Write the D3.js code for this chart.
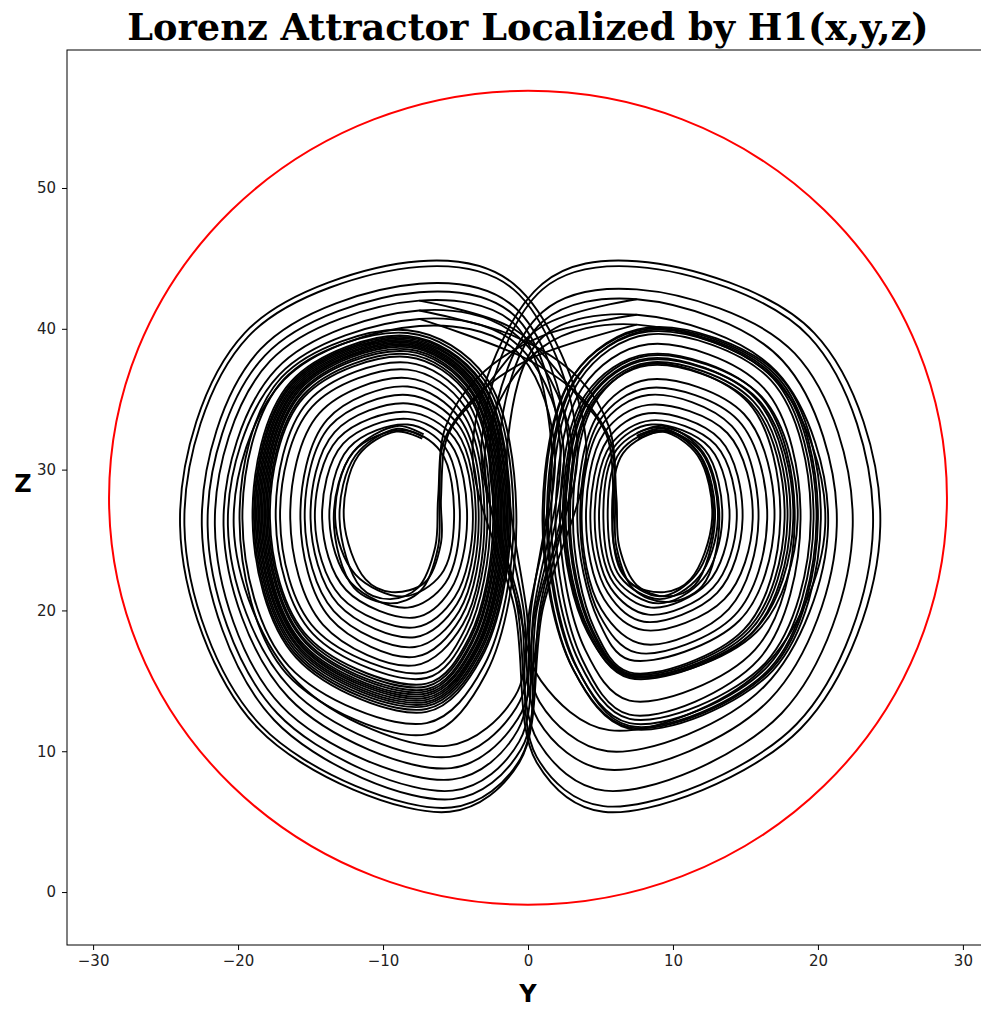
<!DOCTYPE html>
<html>
<head>
<meta charset="utf-8">
<script src="https://cdn.jsdelivr.net/npm/d3@7"></script>
<style>
  body { margin: 0; background: #fff; }
  .tick text { font-family: "DejaVu Sans", sans-serif; font-size: 15px; fill: #222; }
</style>
</head>
<body>
<div id="chart"></div>
<script>
// tick labels
const yTicks = [-30, -20, -10, 0, 10, 20, 30];
const zTicks = [0, 10, 20, 30, 40, 50];

// bounding circle H1 (centre and radius)
const boundCenter = [0, 28.0];
const boundRadius = 28.9;

// left wing, large loops that drop down the central column  [y, z]
const leftOuterLoops = [
  [[-24.0, 26], [-19.55, 39.7], [-7.5, 44.8], [-1, 43.2], [4.0, 32], [1.0, 20], [-0.6, 9.2], [-5.4, 5.7], [-18.6, 11.6]],
  [[-23.7, 26], [-19.3, 39.45], [-7.5, 44.4], [-1, 42.8], [3.4, 32], [0.6, 20], [-0.5, 9.5], [-5.3, 6.0], [-18.4, 11.8]],
  [[-22.5, 26], [-18.45, 38.55], [-7.5, 43.2], [-1, 41.6], [2.8, 32], [0.8, 20], [-0.5, 10.1], [-5.2, 6.6], [-17.5, 12.2]],
  [[-22.1, 26], [-18.15, 38.1], [-7.5, 42.6], [-1, 41.0], [2.2, 32], [0.4, 20], [-0.6, 10.7], [-5.2, 7.2], [-17.3, 12.7]],
  [[-21.6, 26], [-17.8, 37.7], [-7.5, 42.0], [-1, 40.4], [1.6, 32], [0.2, 20], [-0.7, 11.5], [-5.2, 8.0], [-17.0, 13.2]],
  [[-21.0, 26], [-17.35, 37.15], [-7.5, 41.3], [-1, 39.7], [3.0, 32], [0.9, 20], [-0.7, 12.3], [-5.3, 8.8], [-16.5, 13.8]],
  [[-20.7, 26], [-17.15, 36.75], [-7.5, 40.7], [-1, 39.1], [2.4, 32], [0.5, 20], [-0.8, 13.1], [-5.4, 9.6], [-16.3, 14.4]],
  [[-20.3, 26], [-16.85, 36.35], [-7.5, 40.2], [-1, 38.6], [1.8, 32], [0.1, 20], [-0.9, 13.9], [-5.5, 10.4], [-15.9, 14.9]]
];

// left wing, inner spiral loops
const leftInnerLoops = [
  [[-19.9, 26.5], [-17.0, 36.55], [-8.3, 39.9], [-2.9, 36.55], [-0.8, 26.5], [-2.9, 15.5], [-7.0, 11.2], [-16.65, 15.5]],
  [[-19.7, 26.5], [-16.85, 36.4], [-8.3, 39.7], [-3.05, 36.4], [-1.0, 26.5], [-3.05, 16.05], [-7.0, 12.0], [-16.5, 16.05]],
  [[-19.0, 26.5], [-16.35, 36.25], [-8.3, 39.5], [-3.2, 36.25], [-1.2, 26.5], [-3.2, 16.65], [-7.0, 12.8], [-16.0, 16.65]],
  [[-18.9, 26.5], [-16.25, 36.2], [-8.3, 39.4], [-3.25, 36.2], [-1.3, 26.5], [-3.25, 16.8], [-7.0, 13.0], [-15.95, 16.8]],
  [[-18.8, 26.5], [-16.2, 36.1], [-8.3, 39.3], [-3.35, 36.1], [-1.4, 26.5], [-3.35, 16.9], [-7.0, 13.2], [-15.85, 16.9]],
  [[-18.7, 26.5], [-16.1, 36.05], [-8.3, 39.2], [-3.4, 36.05], [-1.5, 26.5], [-3.4, 17.05], [-7.0, 13.35], [-15.8, 17.05]],
  [[-18.6, 26.5], [-16.05, 35.95], [-8.3, 39.1], [-3.5, 35.95], [-1.6, 26.5], [-3.5, 17.15], [-7.0, 13.5], [-15.7, 17.15]],
  [[-18.5, 26.5], [-15.95, 35.9], [-8.3, 39.0], [-3.55, 35.9], [-1.7, 26.5], [-3.55, 17.25], [-7.0, 13.65], [-15.65, 17.25]],
  [[-18.4, 26.5], [-15.9, 35.8], [-8.3, 38.9], [-3.6, 35.8], [-1.8, 26.5], [-3.6, 17.35], [-7.0, 13.8], [-15.55, 17.35]],
  [[-18.3, 26.5], [-15.8, 35.75], [-8.3, 38.8], [-3.7, 35.75], [-1.9, 26.5], [-3.7, 17.45], [-7.0, 13.95], [-15.5, 17.45]],
  [[-18.2, 26.5], [-15.75, 35.65], [-8.3, 38.7], [-3.75, 35.65], [-2.0, 26.5], [-3.75, 17.55], [-7.0, 14.1], [-15.45, 17.55]],
  [[-18.1, 26.5], [-15.65, 35.55], [-8.3, 38.55], [-3.85, 35.55], [-2.1, 26.5], [-3.85, 17.7], [-7.0, 14.25], [-15.35, 17.7]],
  [[-18.0, 26.5], [-15.6, 35.45], [-8.3, 38.4], [-3.9, 35.45], [-2.2, 26.5], [-3.9, 17.8], [-7.0, 14.4], [-15.3, 17.8]],
  [[-17.9, 26.5], [-15.5, 35.3], [-8.3, 38.2], [-4.0, 35.3], [-2.3, 26.5], [-4.0, 17.95], [-7.0, 14.6], [-15.2, 17.95]],
  [[-17.8, 26.5], [-15.45, 35.15], [-8.3, 38.0], [-4.05, 35.15], [-2.4, 26.5], [-4.05, 18.1], [-7.0, 14.8], [-15.15, 18.1]],
  [[-17.4, 26.5], [-15.15, 34.85], [-8.3, 37.6], [-4.2, 34.85], [-2.6, 26.5], [-4.2, 18.35], [-7.0, 15.2], [-14.85, 18.35]],
  [[-17.1, 26.5], [-14.9, 34.45], [-8.3, 37.1], [-4.35, 34.45], [-2.8, 26.5], [-4.35, 18.65], [-7.0, 15.6], [-14.65, 18.65]],
  [[-16.4, 26.5], [-14.4, 34.0], [-8.3, 36.5], [-4.5, 34.0], [-3.0, 26.5], [-4.5, 19.0], [-7.8, 16.1], [-14.15, 19.0]],
  [[-15.7, 26.5], [-13.85, 33.55], [-8.3, 35.9], [-4.65, 33.55], [-3.2, 26.5], [-4.65, 19.45], [-7.8, 16.7], [-13.65, 19.45]],
  [[-15.4, 26.5], [-13.65, 33.1], [-8.3, 35.3], [-4.75, 33.1], [-3.4, 26.5], [-4.75, 19.95], [-7.8, 17.4], [-13.4, 19.95]],
  [[-15.0, 26.5], [-13.35, 32.65], [-8.3, 34.7], [-4.9, 32.65], [-3.6, 26.5], [-4.9, 20.45], [-7.8, 18.1], [-13.1, 20.45]],
  [[-14.7, 26.5], [-13.1, 32.2], [-8.3, 34.1], [-5.05, 32.2], [-3.8, 26.5], [-5.05, 20.95], [-7.8, 18.8], [-12.9, 20.95]],
  [[-14.2, 26.5], [-12.75, 31.85], [-8.3, 33.6], [-5.35, 31.85], [-4.2, 26.5], [-5.35, 21.45], [-7.8, 19.5], [-12.55, 21.45]],
  [[-13.7, 26.5], [-12.35, 31.55], [-8.3, 33.2], [-5.7, 31.55], [-4.7, 26.5], [-5.7, 21.95], [-8.3, 20.2], [-12.2, 21.95]],
  [[-13.3, 26.5], [-12.05, 31.25], [-8.6, 32.8], [-6.0, 31.25], [-5.1, 26.5], [-6.0, 22.55], [-8.6, 21.0], [-11.9, 22.55]]
];

// right wing, large loops that drop down the central column
const rightOuterLoops = [
  [[24.3, 26], [19.75, 39.7], [7.5, 44.8], [1, 43.2], [-3.8, 32], [-0.9, 20], [0.6, 9.2], [5.2, 5.7], [18.8, 11.6]],
  [[23.8, 26], [19.4, 39.45], [7.5, 44.4], [1, 42.8], [-3.2, 32], [-0.5, 20], [0.6, 9.6], [5.2, 6.1], [18.5, 11.9]],
  [[22.4, 26], [18.4, 38.25], [7.5, 42.8], [1, 41.2], [-2.6, 32], [-0.7, 20], [0.7, 10.7], [5.3, 7.2], [17.5, 12.7]],
  [[21.3, 26], [17.55, 37.75], [7.5, 42.1], [1, 40.5], [-2.0, 32], [-0.3, 20], [0.7, 12.2], [5.4, 8.7], [16.7, 13.7]],
  [[20.7, 26], [17.15, 36.95], [7.5, 41.0], [1, 39.4], [-1.4, 32], [-0.1, 20], [0.8, 13.5], [5.5, 10.0], [16.3, 14.6]],
  [[20.5, 26], [17.0, 36.45], [7.5, 40.3], [1, 38.7], [-2.9, 32], [-0.6, 20], [0.9, 15.0], [5.6, 11.5], [16.0, 15.7]]
];

// right wing, inner spiral loops
const rightInnerLoops = [
  [[20.2, 26.5], [17.3, 36.7], [8.3, 40.1], [3.15, 36.7], [1.1, 26.5], [3.15, 15.75], [7.0, 11.6], [16.9, 15.75]],
  [[20.0, 26.5], [17.15, 36.65], [8.3, 40.0], [3.1, 36.65], [1.0, 26.5], [3.1, 15.85], [7.0, 11.7], [16.8, 15.85]],
  [[19.9, 26.5], [17.05, 36.55], [8.3, 39.9], [3.4, 36.55], [1.4, 26.5], [3.4, 15.9], [7.0, 11.8], [16.7, 15.9]],
  [[19.7, 26.5], [16.9, 36.5], [8.3, 39.8], [3.3, 36.5], [1.3, 26.5], [3.3, 16.05], [7.0, 12.0], [16.55, 16.05]],
  [[19.5, 26.5], [16.75, 36.35], [8.3, 39.6], [3.55, 36.35], [1.6, 26.5], [3.55, 16.3], [7.0, 12.3], [16.4, 16.3]],
  [[18.8, 26.5], [16.25, 35.8], [8.3, 38.9], [3.75, 35.8], [1.9, 26.5], [3.75, 16.5], [7.0, 12.6], [15.9, 16.5]],
  [[18.6, 26.5], [16.1, 35.2], [8.3, 38.1], [4.1, 35.2], [2.4, 26.5], [4.1, 18.45], [7.0, 15.3], [15.75, 18.45]],
  [[18.4, 26.5], [15.95, 35.3], [8.3, 38.2], [3.95, 35.3], [2.2, 26.5], [3.95, 17.2], [7.0, 13.6], [15.65, 17.2]],
  [[18.3, 26.5], [15.85, 35.0], [8.3, 37.8], [4.25, 35.0], [2.6, 26.5], [4.25, 18.5], [7.0, 15.4], [15.55, 18.5]],
  [[18.1, 26.5], [15.7, 35.05], [8.3, 37.9], [4.2, 35.05], [2.5, 26.5], [4.2, 18.35], [7.0, 15.2], [15.4, 18.35]],
  [[17.9, 26.5], [15.55, 34.85], [8.3, 37.6], [4.4, 34.85], [2.8, 26.5], [4.4, 18.5], [7.0, 15.4], [15.25, 18.5]],
  [[17.7, 26.5], [15.4, 34.7], [8.3, 37.4], [4.45, 34.7], [2.9, 26.5], [4.45, 18.6], [7.0, 15.5], [15.1, 18.6]],
  [[17.4, 26.5], [15.2, 34.75], [8.3, 37.5], [4.6, 34.75], [3.1, 26.5], [4.6, 18.65], [7.0, 15.6], [14.9, 18.65]],
  [[17.0, 26.5], [14.9, 33.95], [8.3, 36.4], [4.85, 33.95], [3.4, 26.5], [4.85, 19.3], [7.0, 16.5], [14.6, 19.3]],
  [[16.5, 26.5], [14.5, 33.5], [8.3, 35.8], [4.95, 33.5], [3.6, 26.5], [4.95, 19.65], [7.5, 17.0], [14.25, 19.65]],
  [[15.9, 26.5], [14.05, 33.1], [8.3, 35.3], [5.05, 33.1], [3.7, 26.5], [5.05, 20.1], [8.0, 17.6], [13.85, 20.1]],
  [[15.5, 26.5], [13.75, 32.6], [8.3, 34.6], [5.25, 32.6], [4.0, 26.5], [5.25, 20.8], [8.0, 18.6], [13.55, 20.8]],
  [[14.8, 26.5], [13.25, 32.15], [8.3, 34.0], [5.5, 32.15], [4.3, 26.5], [5.5, 21.25], [8.0, 19.2], [13.05, 21.25]],
  [[14.4, 26.5], [12.95, 31.75], [8.5, 33.5], [5.7, 31.75], [4.6, 26.5], [5.7, 21.6], [8.3, 19.7], [12.75, 21.6]],
  [[13.9, 26.5], [12.55, 31.55], [8.5, 33.2], [5.9, 31.55], [4.9, 26.5], [5.9, 21.95], [8.5, 20.2], [12.4, 21.95]],
  [[13.4, 26.5], [12.2, 31.4], [9.0, 33.0], [6.1, 31.4], [5.2, 26.5], [6.1, 22.2], [9.0, 20.5], [12.05, 22.2]],
  [[13.1, 26.5], [11.95, 31.25], [9.2, 32.8], [6.35, 31.25], [5.5, 26.5], [6.35, 22.4], [9.1, 20.8], [11.8, 22.4]],
  [[12.8, 26.5], [11.75, 31.15], [9.4, 32.7], [6.55, 31.15], [5.8, 26.5], [6.55, 22.55], [9.1, 21.0], [11.6, 22.55]]
];

// passages from one wing over the top into the other wing's hole
const transferPaths = [
  [[-7.5, 41.3], [-1, 39.5], [3.5, 36.5], [5.6, 33], [6.1, 28], [6.3, 24.5], [7.5, 21.8], [9.5, 21.0], [11.5, 21.8], [12.9, 26.5], [11.9, 31], [9.4, 32.9], [7.5, 32.4]],
  [[-7.5, 40.7], [0, 37.8], [3.8, 35], [5.7, 32], [6.0, 28], [6.1, 24.5], [7.3, 21.5], [9.5, 20.6], [12, 21.7], [13.2, 26.5], [12.1, 31.2], [9.4, 33.1], [7.5, 32.6]],
  [[-7.5, 42.0], [-1, 40.0], [3.2, 35.5], [5.4, 32.5], [5.9, 28], [5.9, 24.8], [7.0, 22.0], [9.4, 21.3], [11.2, 22.2], [12.7, 26.5], [11.7, 31], [9.3, 32.7], [7.6, 32.2]],
  [[7.5, 41.0], [1, 39.5], [-3.5, 36.5], [-5.7, 33], [-6.2, 28], [-6.4, 24.5], [-7.6, 21.6], [-9.5, 20.8], [-11.5, 21.6], [-13.0, 26.5], [-11.9, 31], [-9.0, 32.9], [-7.2, 32.3]],
  [[7.5, 40.3], [0, 37.8], [-3.8, 35], [-5.8, 32], [-6.1, 28], [-6.2, 24.5], [-7.4, 21.4], [-9.5, 20.5], [-12, 21.6], [-13.4, 26.5], [-12.1, 31.2], [-9.0, 33.1], [-7.2, 32.5]],
  [[7.5, 42.1], [1, 40.2], [-3.2, 35.5], [-5.5, 32.5], [-6.0, 28], [-6.0, 24.8], [-7.1, 22.0], [-9.4, 21.3], [-11.2, 22.2], [-12.7, 26.5], [-11.7, 31], [-9.1, 32.7], [-7.3, 32.2]]
];

const width = 981;
const height = 1009;
const plot = { left: 67, right: 989, top: 50, bottom: 945 };

const x = d3.scaleLinear().domain([-31.8, 31.8]).range([plot.left, plot.right]);
const y = d3.scaleLinear().domain([-3.76, 59.8]).range([plot.bottom, plot.top]);

const svg = d3.select("#chart")
  .append("svg")
  .attr("width", width)
  .attr("height", height);

svg.append("defs").append("clipPath")
  .attr("id", "plot-clip")
  .append("rect")
  .attr("x", plot.left)
  .attr("y", plot.top)
  .attr("width", plot.right - plot.left)
  .attr("height", plot.bottom - plot.top);

const area = svg.append("g").attr("clip-path", "url(#plot-clip)");

// red bounding circle
area.append("ellipse")
  .attr("cx", x(boundCenter[0]))
  .attr("cy", y(boundCenter[1]))
  .attr("rx", x(boundRadius) - x(0))
  .attr("ry", y(0) - y(boundRadius))
  .attr("fill", "none")
  .attr("stroke", "#ff0000")
  .attr("stroke-width", 2);

const loopLine = d3.line()
  .x(d => x(d[0]))
  .y(d => y(d[1]))
  .curve(d3.curveCatmullRomClosed.alpha(0.5));

const openLine = d3.line()
  .x(d => x(d[0]))
  .y(d => y(d[1]))
  .curve(d3.curveCatmullRom.alpha(0.5));

const loops = [].concat(leftOuterLoops, leftInnerLoops, rightOuterLoops, rightInnerLoops);

area.selectAll("path.loop")
  .data(loops)
  .enter()
  .append("path")
  .attr("class", "loop")
  .attr("d", loopLine)
  .attr("fill", "none")
  .attr("stroke", "#000")
  .attr("stroke-width", 1.9);

area.selectAll("path.transfer")
  .data(transferPaths)
  .enter()
  .append("path")
  .attr("class", "transfer")
  .attr("d", openLine)
  .attr("fill", "none")
  .attr("stroke", "#000")
  .attr("stroke-width", 1.9);

// frame
svg.append("rect")
  .attr("x", plot.left)
  .attr("y", plot.top)
  .attr("width", plot.right - plot.left)
  .attr("height", plot.bottom - plot.top)
  .attr("fill", "none")
  .attr("stroke", "#000")
  .attr("stroke-width", 1);

// axes
const xAxis = svg.append("g")
  .attr("transform", `translate(0, ${plot.bottom})`)
  .call(d3.axisBottom(x).tickValues(yTicks).tickSize(5).tickPadding(5));

const yAxis = svg.append("g")
  .attr("transform", `translate(${plot.left}, 0)`)
  .call(d3.axisLeft(y).tickValues(zTicks).tickSize(5).tickPadding(6));

[xAxis, yAxis].forEach(g => {
  g.select(".domain").remove();
  g.selectAll(".tick line").attr("stroke", "#000");
});

// title and axis labels
svg.append("text")
  .attr("x", (plot.left + plot.right) / 2)
  .attr("y", 40)
  .attr("text-anchor", "middle")
  .style("font-family", "'DejaVu Serif', serif")
  .style("font-weight", "bold")
  .style("font-size", "36.7px")
  .text("Lorenz Attractor Localized by H1(x,y,z)");

svg.append("text")
  .attr("x", x(0))
  .attr("y", 1002)
  .attr("text-anchor", "middle")
  .style("font-family", "'DejaVu Sans', sans-serif")
  .style("font-weight", "bold")
  .style("font-size", "24px")
  .text("Y");

svg.append("text")
  .attr("x", 23)
  .attr("y", 492)
  .attr("text-anchor", "middle")
  .style("font-family", "'DejaVu Sans', sans-serif")
  .style("font-weight", "bold")
  .style("font-size", "24px")
  .text("Z");
</script>
</body>
</html>
